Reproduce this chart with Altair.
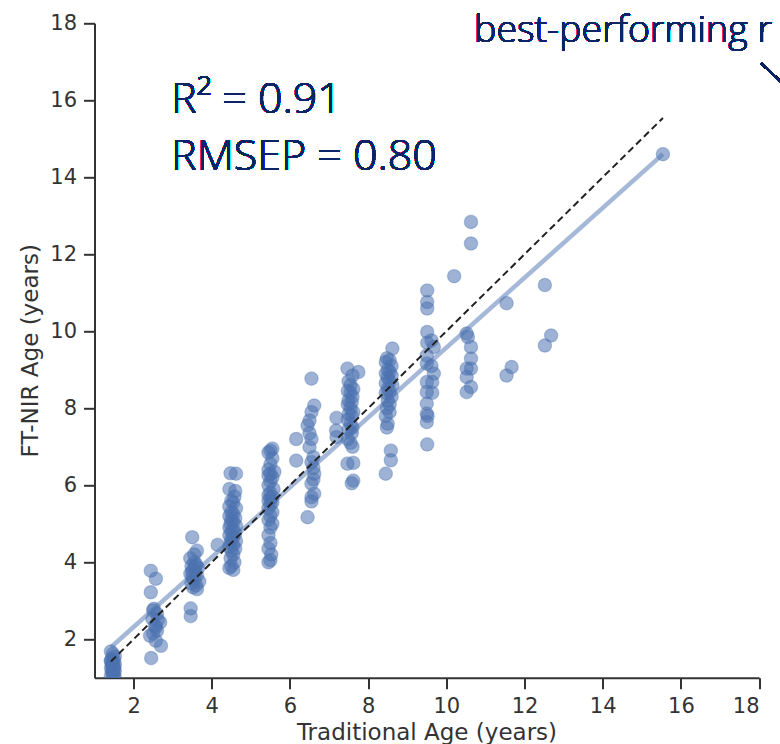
import altair as alt
import pandas as pd

# ---- data ----
c15_x = [1.42, 1.47, 1.52, 1.45, 1.50, 1.42, 1.47, 1.52, 1.45, 1.50, 1.42, 1.47, 1.52, 1.45, 1.50, 1.42, 1.47, 1.52, 1.45, 1.50, 1.47, 1.42]
c15_y = [1.68, 1.62, 1.55, 1.50, 1.45, 1.42, 1.38, 1.35, 1.30, 1.28, 1.25, 1.20, 1.18, 1.15, 1.10, 1.05, 1.02, 1.00, 1.35, 1.25, 1.15, 1.45]

c25_x = [2.44, 2.57, 2.44, 2.52, 2.60, 2.48, 2.68, 2.57, 2.42, 2.60, 2.57, 2.70, 2.45, 2.50, 2.55, 2.62, 2.50]
c25_y = [3.78, 3.57, 3.22, 2.79, 2.66, 2.53, 2.44, 2.31, 2.09, 2.22, 1.96, 1.83, 1.51, 2.75, 2.35, 2.50, 2.15]

c35_x = [3.50, 3.62, 3.45, 3.55, 3.60, 3.48, 3.65, 3.52, 3.58, 3.45, 3.62, 3.50, 3.55, 3.68, 3.48, 3.60, 3.52, 3.62, 3.46, 3.46, 3.55, 3.58, 3.50, 4.15]
c35_y = [4.65, 4.30, 4.10, 4.00, 3.95, 3.90, 3.85, 3.80, 3.75, 3.70, 3.65, 3.60, 3.55, 3.50, 3.45, 3.40, 3.35, 3.30, 2.80, 2.60, 4.20, 3.90, 3.75, 4.45]

c45_x = [4.48, 4.62, 4.45, 4.60, 4.58, 4.50, 4.55, 4.45, 4.62, 4.50, 4.55, 4.45, 4.60, 4.50, 4.55, 4.48, 4.62, 4.45, 4.55, 4.50,
         4.60, 4.45, 4.55, 4.50, 4.62, 4.48, 4.55, 4.45, 4.60, 4.50, 4.55, 4.48, 4.58, 4.50, 4.45, 4.55]
c45_y = [6.31, 6.30, 5.90, 5.85, 5.70, 5.60, 5.55, 5.45, 5.40, 5.30, 5.25, 5.20, 5.15, 5.10, 5.05, 5.00, 4.95, 4.90, 4.85, 4.80,
         4.75, 4.70, 4.65, 4.60, 4.55, 4.50, 4.45, 4.40, 4.35, 4.30, 4.20, 4.10, 4.00, 3.90, 3.85, 3.80]

c55_x = [5.55, 5.50, 5.45, 5.55, 5.50, 5.45, 5.60, 5.50, 5.45, 5.55, 5.50, 5.45, 5.58, 5.50, 5.45, 5.55, 5.50, 5.45, 5.55, 5.50,
         5.45, 5.55, 5.50, 5.45, 5.55, 5.50, 5.45, 5.50, 5.45, 5.52, 5.50, 5.45]
c55_y = [6.95, 6.90, 6.85, 6.70, 6.55, 6.40, 6.35, 6.30, 6.25, 6.20, 6.10, 6.00, 5.90, 5.80, 5.75, 5.70, 5.65, 5.60, 5.55, 5.50,
         5.40, 5.30, 5.20, 5.10, 5.00, 4.90, 4.70, 4.50, 4.35, 4.20, 4.05, 4.00]

c65_x = [6.55, 6.62, 6.55, 6.50, 6.45, 6.55, 6.50, 6.60, 6.55, 6.62, 6.60, 6.55, 6.62, 6.55, 6.55, 6.45, 6.50, 6.60, 6.16, 6.16]
c65_y = [8.77, 8.07, 7.90, 7.68, 7.55, 7.20, 6.99, 6.73, 6.60, 6.30, 6.15, 6.04, 5.78, 5.69, 5.58, 5.17, 7.35, 6.45, 7.20, 6.64]

c75_x = [7.47, 7.75, 7.60, 7.50, 7.55, 7.62, 7.48, 7.55, 7.60, 7.50, 7.58, 7.48, 7.55, 7.62, 7.50, 7.58, 7.48, 7.55, 7.60, 7.50,
         7.58, 7.48, 7.55, 7.60, 7.47, 7.62, 7.62, 7.58, 7.19, 7.18, 7.19]
c75_y = [9.03, 8.94, 8.85, 8.70, 8.60, 8.50, 8.45, 8.40, 8.30, 8.20, 8.15, 8.10, 8.00, 7.90, 7.85, 7.80, 7.70, 7.60, 7.50, 7.45,
         7.35, 7.20, 7.10, 7.00, 6.56, 6.58, 6.12, 6.05, 7.75, 7.42, 7.25]

c85_x = [8.62, 8.48, 8.55, 8.45, 8.60, 8.50, 8.55, 8.45, 8.60, 8.50, 8.55, 8.45, 8.62, 8.50, 8.55, 8.45, 8.60, 8.50, 8.55, 8.48,
         8.55, 8.45, 8.50, 8.48, 8.58, 8.58, 8.45]
c85_y = [9.55, 9.30, 9.25, 9.20, 9.10, 9.00, 8.95, 8.90, 8.85, 8.80, 8.70, 8.65, 8.60, 8.50, 8.45, 8.40, 8.30, 8.20, 8.10, 8.00,
         7.90, 7.80, 7.60, 7.50, 6.90, 6.65, 6.30]

c95_x = [9.51, 9.51, 9.51, 9.51, 9.62, 9.51, 9.68, 9.50, 9.50, 9.62, 9.68, 9.50, 9.64, 9.50, 9.64, 9.50, 9.50, 9.52, 9.50, 9.51]
c95_y = [11.06, 10.76, 10.59, 9.98, 9.76, 9.70, 9.59, 9.37, 9.16, 9.10, 8.90, 8.68, 8.68, 8.42, 8.40, 8.12, 7.86, 7.80, 7.64, 7.06]

c105_x = [10.20, 10.63, 10.63, 10.52, 10.55, 10.63, 10.63, 10.52, 10.63, 10.52, 10.63, 10.52]
c105_y = [11.43, 12.84, 12.28, 9.94, 9.85, 9.59, 9.29, 9.03, 9.03, 8.81, 8.55, 8.42]

chigh_x = [11.54, 11.67, 11.54, 12.52, 12.68, 12.52, 15.54]
chigh_y = [10.73, 9.07, 8.85, 11.20, 9.89, 9.63, 14.60]

# fitted regression line and 1:1 line (end points)
fit_x = [1.42, 15.54]
fit_y = [1.79, 14.60]
ref_x = [1.42, 15.54]
ref_y = [1.42, 15.54]

x_ticks = [2, 4, 6, 8, 10, 12, 14, 16, 18]
y_ticks = [2, 4, 6, 8, 10, 12, 14, 16, 18]

# ---- tables ----
trad = c15_x + c25_x + c35_x + c45_x + c55_x + c65_x + c75_x + c85_x + c95_x + c105_x + chigh_x
nir = c15_y + c25_y + c35_y + c45_y + c55_y + c65_y + c75_y + c85_y + c95_y + c105_y + chigh_y
pts = pd.DataFrame({"trad": trad, "nir": nir})
fit = pd.DataFrame({"trad": fit_x, "nir": fit_y})
ref = pd.DataFrame({"trad": ref_x, "nir": ref_y})

NAVY = "#0b2466"
BLUE = "#4C72B0"
AX = "#333333"
FONT = "Open Sans"

xs = alt.Scale(domain=[1, 18], nice=False, zero=False)
ys = alt.Scale(domain=[1, 18], nice=False, zero=False)

x_axis = alt.Axis(values=x_ticks, title="Traditional Age (years)", titleX=332, titleY=61.5,
                  titleBaseline="alphabetic", titleAlign="center")
y_axis = alt.Axis(values=y_ticks, title="FT-NIR Age (years)", titleX=-57, titleY=327,
                  titleAngle=270, titleBaseline="alphabetic", titleAlign="center")

X = alt.X("trad:Q", scale=xs, axis=x_axis)
Y = alt.Y("nir:Q", scale=ys, axis=y_axis)

points = alt.Chart(pts).mark_circle(
    size=180, color=BLUE, fillOpacity=0.55, stroke=BLUE, strokeOpacity=0.35, strokeWidth=1.2, clip=True
).encode(x=X, y=Y)

fit_line = alt.Chart(fit).mark_line(color=BLUE, opacity=0.5, strokeWidth=4.5).encode(x=X, y=Y)

ref_line = alt.Chart(ref).mark_line(color="#222222", strokeWidth=2, strokeDash=[7, 4]).encode(x=X, y=Y)

txt1 = alt.Chart(pts).mark_text(
    font=FONT, fontSize=43, fontWeight=300, color=NAVY, align="left", baseline="alphabetic"
).encode(x=alt.datum(2.96), y=alt.datum(15.66), text=alt.value("R² = 0.91"))

txt2 = alt.Chart(pts).mark_text(
    font=FONT, fontSize=43, fontWeight=300, color=NAVY, align="left", baseline="alphabetic"
).encode(x=alt.datum(2.96), y=alt.datum(14.19), text=alt.value("RMSEP = 0.80"))

txt3 = alt.Chart(pts).mark_text(
    font=FONT, fontSize=37.5, fontWeight=300, color=NAVY, align="left", baseline="alphabetic"
).encode(x=alt.datum(10.71), y=alt.datum(17.52), text=alt.value("best-performing r"))

leader = alt.Chart(pts).mark_rule(color=NAVY, strokeWidth=2).encode(
    x=alt.datum(18.06), y=alt.datum(16.96), x2=alt.datum(19.0), y2=alt.datum(16.05)
)

chart = alt.layer(points, fit_line, ref_line, txt1, txt2, txt3, leader).properties(
    width=664.6, height=654.4,
    autosize=alt.AutoSizeParams(type="none"),
    padding={"left": 94.5, "top": 23.3, "right": 20.9, "bottom": 66.3},
    background="white",
).configure_view(stroke=None).configure_axis(
    grid=False,
    domainColor=AX, domainWidth=2,
    tickColor=AX, tickWidth=2, tickSize=11,
    labelFont="DejaVu Sans", labelFontSize=21, labelColor=AX, labelPadding=7,
    titleFont="DejaVu Sans", titleFontSize=23, titleColor=AX, titleFontWeight="normal",
)

chart.save("out.html", embed_options={"renderer": "svg", "actions": False})
